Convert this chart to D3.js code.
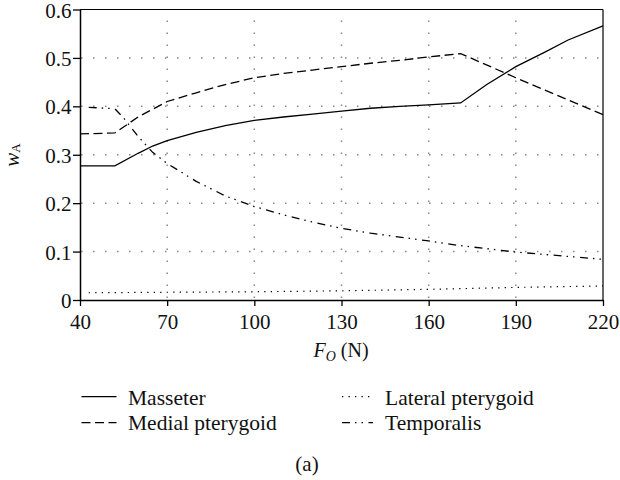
<!DOCTYPE html>
<html><head><meta charset="utf-8">
<script src="https://cdn.jsdelivr.net/npm/d3@7"></script>
<style>body{margin:0;background:#fff}svg{display:block}</style>
</head><body><svg id="c" width="620" height="480"></svg>
<script>
const xTicks = [40, 70, 100, 130, 160, 190, 220];
const yTicks = [0, 0.1, 0.2, 0.3, 0.4, 0.5, 0.6];
const yTickLabels = ["0", "0.1", "0.2", "0.3", "0.4", "0.5", "0.6"];
const seriesNames = ["Masseter", "Medial pterygoid", "Lateral pterygoid", "Temporalis"];

const masseterX = [40, 52, 60, 65, 70, 80, 90, 100, 110, 120, 130, 140, 150, 160, 171, 180, 190, 200, 208, 220];
const masseterY = [0.277, 0.277, 0.303, 0.318, 0.329, 0.346, 0.360, 0.371, 0.378, 0.384, 0.390, 0.396, 0.400, 0.403, 0.407, 0.445, 0.482, 0.512, 0.537, 0.566];

const medialX = [40, 52, 60, 70, 80, 90, 100, 110, 120, 130, 140, 150, 160, 171, 190, 210, 220];
const medialY = [0.343, 0.345, 0.378, 0.410, 0.428, 0.445, 0.459, 0.468, 0.475, 0.482, 0.489, 0.495, 0.502, 0.509, 0.459, 0.408, 0.383];

const lateralX = [43, 70, 100, 130, 160, 190, 220];
const lateralY = [0.015, 0.016, 0.017, 0.019, 0.022, 0.026, 0.029];

const temporalisX = [43, 52, 55, 60, 65, 70, 80, 90, 100, 110, 120, 130, 140, 150, 160, 170, 180, 190, 200, 210, 220];
const temporalisY = [0.398, 0.395, 0.376, 0.338, 0.305, 0.282, 0.245, 0.215, 0.193, 0.176, 0.161, 0.148, 0.138, 0.130, 0.122, 0.113, 0.106, 0.099, 0.094, 0.089, 0.084];

const series = [
  {name: seriesNames[0], xs: masseterX, ys: masseterY, dash: null, w: 1.3},
  {name: seriesNames[1], xs: medialX, ys: medialY, dash: "9,4.5", w: 1.3},
  {name: seriesNames[2], xs: lateralX, ys: lateralY, dash: "1.3,5.2", w: 1.2},
  {name: seriesNames[3], xs: temporalisX, ys: temporalisY, dash: "8,5,1.5,5,1.5,5.5", w: 1.3}
];

const svg = d3.select("#c");
const FONT = '"Liberation Serif", "Times New Roman", serif';
const L = 80, R = 603, T = 9.5, B = 300;
const x = d3.scaleLinear().domain([40, 220]).range([L, R]);
const y = d3.scaleLinear().domain([0, 0.6]).range([B, T]);

// grid
const g = svg.append("g");
g.selectAll(".hg").data(yTicks.slice(1, -1)).enter().append("line")
  .attr("x1", L + 1).attr("x2", R).attr("y1", d => y(d)).attr("y2", d => y(d))
  .attr("stroke", "#888").attr("stroke-width", 1.5).attr("stroke-dasharray", "1.5,10.5");
g.selectAll(".vg").data(xTicks.slice(1, -1)).enter().append("line")
  .attr("y1", B - 2).attr("y2", T).attr("x1", d => x(d)).attr("x2", d => x(d))
  .attr("stroke", "#888").attr("stroke-width", 1.5).attr("stroke-dasharray", "1.5,10.5");

// frame top and right
svg.append("line").attr("x1", L).attr("x2", R).attr("y1", T).attr("y2", T).attr("stroke", "#000").attr("stroke-width", 1.2);
svg.append("line").attr("x1", R).attr("x2", R).attr("y1", T).attr("y2", B).attr("stroke", "#000").attr("stroke-width", 1.2);

// axes
const xa = svg.append("g").attr("transform", `translate(0,${B})`)
  .call(d3.axisBottom(x).tickValues(xTicks).tickSize(6).tickSizeOuter(0).tickPadding(8).tickFormat(d3.format("d")));
const ya = svg.append("g").attr("transform", `translate(${L},0)`)
  .call(d3.axisLeft(y).tickValues(yTicks).tickSize(7).tickSizeOuter(0).tickPadding(1.5).tickFormat((d, i) => yTickLabels[i]));
[xa, ya].forEach(a => {
  a.attr("font-family", null);
  a.select(".domain").attr("stroke", "#000").attr("stroke-width", 1.5);
  a.selectAll(".tick line").attr("stroke", "#000").attr("stroke-width", 1.3);
  a.selectAll("text").attr("font-size", 21).attr("fill", "#111");
});
ya.selectAll("text").attr("dy", "0.36em");

// lines
const line = d3.line().x(d => x(d[0])).y(d => y(d[1]));
series.forEach(s => {
  const pts = s.xs.map((v, i) => [v, s.ys[i]]);
  svg.append("path").datum(pts).attr("d", line).attr("fill", "none")
    .attr("stroke", "#000").attr("stroke-width", s.w)
    .attr("stroke-dasharray", s.dash);
});

// axis titles
const yl = svg.append("text").attr("transform", "translate(19,155) rotate(-90)")
  .attr("text-anchor", "middle").attr("font-size", 21).attr("fill", "#111");
yl.append("tspan").attr("font-style", "italic").text("w");
yl.append("tspan").attr("font-size", 13).attr("dy", 1).text("A");

const xl = svg.append("text").attr("x", 341).attr("y", 357).attr("text-anchor", "middle")
  .attr("font-size", 20).attr("fill", "#111");
xl.append("tspan").attr("font-style", "italic").text("F");
xl.append("tspan").attr("font-size", 14).attr("font-style", "italic").attr("dy", 4).text("O");
xl.append("tspan").attr("dy", -4).text(" (N)");

// legend
const legPos = [[81.5, 116.5, 128, 396.7, 405], [81.5, 116.5, 128, 422.7, 429.5], [342, 373, 385, 396.7, 405], [342, 373, 385, 422.7, 429.5]];
series.forEach((s, i) => {
  const p = legPos[i];
  svg.append("line").attr("x1", p[0]).attr("x2", p[1]).attr("y1", p[3]).attr("y2", p[3])
    .attr("stroke", "#000").attr("stroke-width", s.w).attr("stroke-dasharray", s.dash);
  svg.append("text").attr("x", p[2]).attr("y", p[4]).attr("font-size", 21.5)
    .attr("fill", "#111").text(s.name);
});

svg.append("text").attr("x", 307).attr("y", 471).attr("text-anchor", "middle")
  .attr("font-size", 21).attr("fill", "#111").text("(a)");

svg.selectAll("text").style("font-family", FONT);
</script></body></html>
